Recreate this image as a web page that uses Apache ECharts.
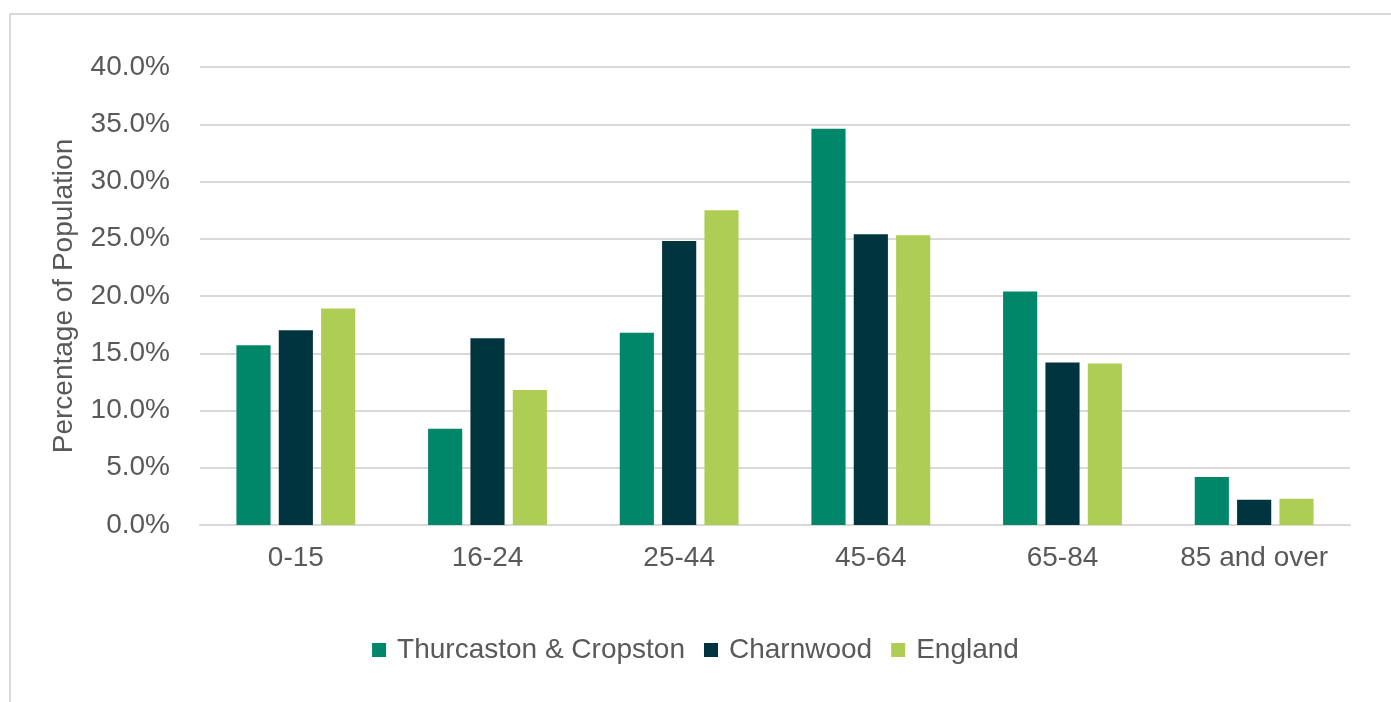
<!DOCTYPE html>
<html>
<head>
<meta charset="utf-8">
<title>Population by age group</title>
<script src="https://cdn.jsdelivr.net/npm/echarts@6/dist/echarts.min.js"></script>
<style>
  html, body { margin: 0; padding: 0; background: #ffffff; }
  #frame {
    position: absolute; left: 9px; top: 13px; width: 1400px; height: 720px;
    border: 2px solid #d9d9d9; box-sizing: border-box;
  }
  #chart { position: absolute; left: 0; top: 0; width: 1391px; height: 702px; }
</style>
</head>
<body>
<div id="frame"></div>
<div id="chart"></div>
<script>
// Age bands shown along the bottom axis
const ageGroups = ['0-15', '16-24', '25-44', '45-64', '65-84', '85 and over'];

// Share of population in each age band (%)
const thurcastonCropston = [15.7, 8.4, 16.8, 34.6, 20.4, 4.2];
const charnwood = [17.0, 16.3, 24.8, 25.4, 14.2, 2.2];
const england = [18.9, 11.8, 27.5, 25.3, 14.1, 2.3];

const seriesNames = ['Thurcaston & Cropston', 'Charnwood', 'England'];
const seriesColors = ['#00876a', '#00343f', '#aecd55'];

const textColor = '#595959';
const fontFamily = '"Liberation Sans", Arial, sans-serif';

const chart = echarts.init(document.getElementById('chart'), null, { renderer: 'canvas' });

const makeSeries = (name, data, color) => ({
  name: name,
  type: 'bar',
  data: data,
  barGap: '24%',
  barCategoryGap: '38%',
  itemStyle: { color: color },
  emphasis: { disabled: true }
});

chart.setOption({
  animation: false,
  backgroundColor: 'transparent',
  textStyle: { fontFamily: fontFamily, color: textColor },
  grid: { left: 200, top: 67, width: 1150, height: 458, containLabel: false },
  legend: {
    data: seriesNames,
    bottom: 33,
    left: 'center',
    itemWidth: 14,
    itemHeight: 14,
    itemGap: 19,
    icon: 'rect',
    textStyle: { fontSize: 28, color: textColor, fontFamily: fontFamily, padding: [0, 0, 0, 6] }
  },
  xAxis: {
    type: 'category',
    data: ageGroups,
    axisLine: { show: true, lineStyle: { color: '#d9d9d9', width: 2 } },
    axisTick: { show: false },
    axisLabel: { interval: 0, hideOverlap: false, fontSize: 28, color: textColor, margin: 19, fontFamily: fontFamily }
  },
  yAxis: {
    type: 'value',
    min: 0,
    max: 40,
    interval: 5,
    name: 'Percentage of Population',
    nameLocation: 'middle',
    nameGap: 122,
    nameTextStyle: { fontSize: 28, color: textColor, fontFamily: fontFamily },
    axisLine: { show: false },
    axisTick: { show: false },
    splitLine: { lineStyle: { color: '#d9d9d9', width: 2 } },
    axisLabel: {
      fontSize: 28,
      color: textColor,
      margin: 30,
      fontFamily: fontFamily,
      formatter: v => v.toFixed(1) + '%'
    }
  },
  series: [
    makeSeries(seriesNames[0], thurcastonCropston, seriesColors[0]),
    makeSeries(seriesNames[1], charnwood, seriesColors[1]),
    makeSeries(seriesNames[2], england, seriesColors[2])
  ]
});
</script>
</body>
</html>
